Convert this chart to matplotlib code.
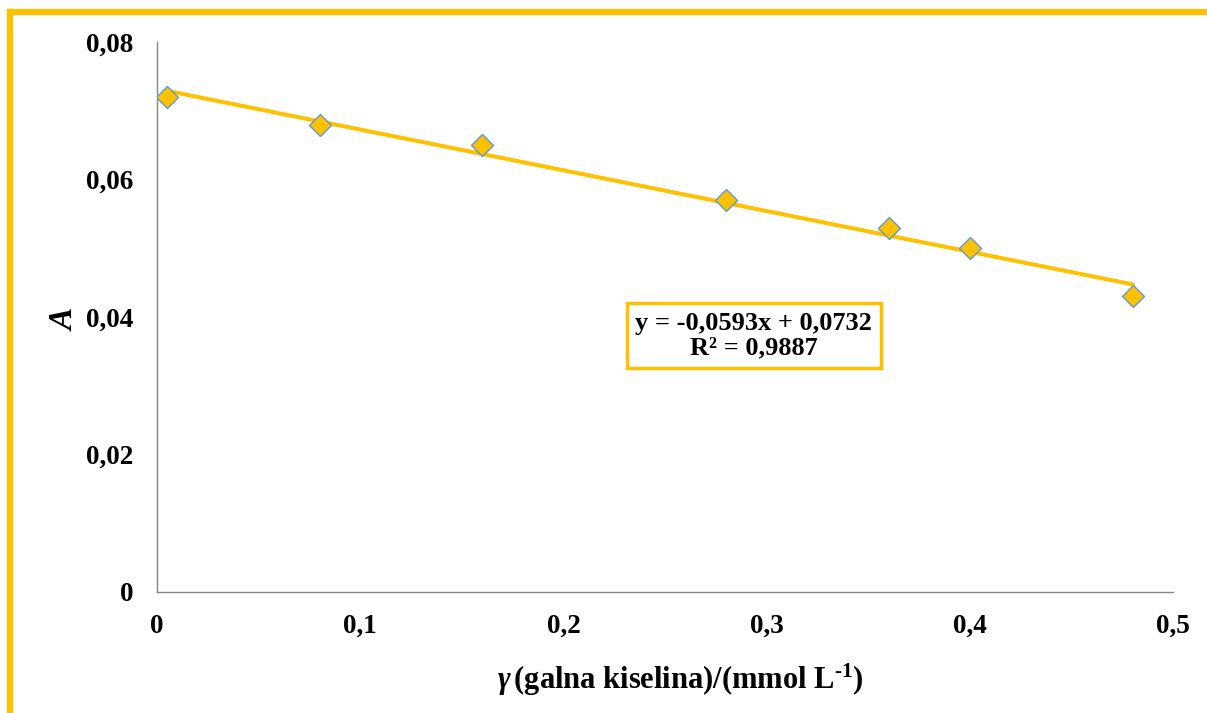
import matplotlib.pyplot as plt
from matplotlib.lines import Line2D
from matplotlib.ticker import FuncFormatter

# podaci očitani s grafa
gamma = [0.005, 0.08, 0.16, 0.28, 0.36, 0.40, 0.48]
apsorbancija = [0.072, 0.068, 0.065, 0.057, 0.053, 0.050, 0.043]

# pravac (trendline) kao na grafu
nagib = -0.0593
odsjecak = 0.0732
r2 = 0.9887

x_ticks = [0, 0.1, 0.2, 0.3, 0.4, 0.5]
y_ticks = [0, 0.02, 0.04, 0.06, 0.08]

zuta = '#FFC000'
plava = '#5B9BD5'

plt.rcParams['font.family'] = 'Liberation Serif'
plt.rcParams['font.weight'] = 'bold'
plt.rcParams['mathtext.fontset'] = 'custom'
plt.rcParams['mathtext.rm'] = 'Liberation Serif:bold'
plt.rcParams['mathtext.it'] = 'Liberation Serif:italic:bold'
plt.rcParams['mathtext.bf'] = 'Liberation Serif:bold'

fig = plt.figure(figsize=(12.07, 7.13), dpi=100)
ax = fig.add_axes([0.130, 0.170, 0.842, 0.771])

# okvir (samo gore i lijevo vidljiv)
fig.add_artist(Line2D([10 / 1207, 10 / 1207], [0, 1 - 12 / 713], color=zuta, lw=4.5,
                      transform=fig.transFigure, solid_capstyle='projecting'))
fig.add_artist(Line2D([10 / 1207, 1], [1 - 12 / 713, 1 - 12 / 713], color=zuta, lw=4.5,
                      transform=fig.transFigure, solid_capstyle='projecting'))

# pravac
x_linija = [gamma[0], gamma[-1]]
y_linija = [nagib * x + odsjecak for x in x_linija]
ax.plot(x_linija, y_linija, color=zuta, lw=2.9, zorder=2)

# točke
ax.plot(gamma, apsorbancija, 'D', markersize=11.5, markerfacecolor=zuta,
        markeredgecolor=plava, markeredgewidth=1.0, linestyle='none', zorder=3)

ax.set_xlim(0, 0.5)
ax.set_ylim(0, 0.08)
ax.set_xticks(x_ticks)
ax.set_yticks(y_ticks)
fmt = FuncFormatter(lambda v, p: f'{v:g}'.replace('.', ','))
ax.xaxis.set_major_formatter(fmt)
ax.yaxis.set_major_formatter(fmt)
ax.tick_params(axis='both', length=0, labelsize=19.5)
ax.tick_params(axis='x', pad=16)
ax.tick_params(axis='y', pad=17)

for s in ['top', 'right']:
    ax.spines[s].set_visible(False)
for s in ['left', 'bottom']:
    ax.spines[s].set_color('#868686')
    ax.spines[s].set_linewidth(1.0)

ax.set_xlabel(r'$\mathit{\gamma}\,$(galna kiselina)/(mmol L$^{\text{-1}}$)', fontsize=22, fontweight='bold')
ax.xaxis.set_label_coords(0.515, -0.128)
ax.set_ylabel(r'$\mathit{A}$', fontsize=24)
ax.yaxis.set_label_coords(-0.077, 0.497)

tekst = f'y = {nagib:.4f}x + {odsjecak:.4f}\nR² = {r2:.4f}'.replace('.', ',')
ax.text(0.2936, 0.0373, tekst, fontsize=19, fontweight='bold', ha='center', va='center',
        linespacing=1.05,
        bbox=dict(boxstyle='square,pad=0.33', facecolor='white', edgecolor=zuta, linewidth=2.5))

fig.savefig('out.png', dpi=100)
